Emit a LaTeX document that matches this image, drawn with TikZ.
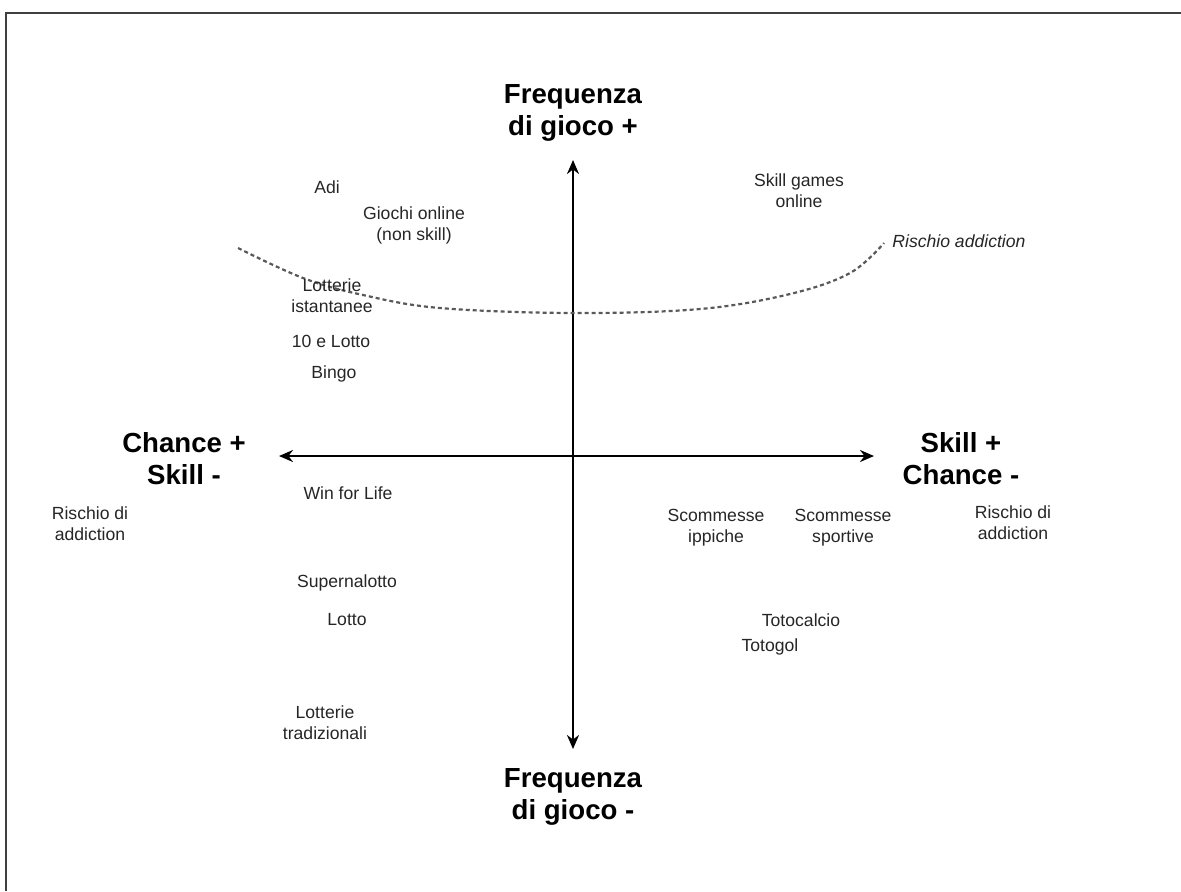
\documentclass[tikz,border=0pt]{standalone}
\usepackage{fontspec}
\setmainfont{Liberation Sans}
\usetikzlibrary{arrows.meta}
\begin{document}
\begin{tikzpicture}[x=0.5pt,y=-0.5pt,
  lbl/.style={align=center,text=black!85,font=\fontsize{8.8}{10.5}\selectfont,inner sep=0pt},
  title/.style={align=center,text=black,font=\fontsize{13.8}{16}\selectfont\bfseries,inner sep=0pt},
  axis/.style={line width=1.2pt,{Stealth[length=7pt,width=6pt]}-{Stealth[length=7pt,width=6pt]}},
  riskline/.style={line width=1.1pt,black!65,dash pattern=on 2pt off 1.5pt}]
\useasboundingbox (0,0) rectangle (1181,891);
% frame
\draw[line width=1pt,black!75] (6,891) -- (6,13) -- (1181,13);
% axes
\coordinate (top) at (573,160);
\coordinate (bot) at (573,749);
\coordinate (lft) at (279,456);
\coordinate (rgt) at (874,456);
\draw[axis] (top) -- (bot);
\draw[axis] (lft) -- (rgt);
% titles
\node[title] (fplus) at (573,113) {Frequenza\\di gioco +};
\node[title] (fminus) at (573,797) {Frequenza\\di gioco -};
\node[title] (chance) at (184,459) {Chance +\\Skill -};
\node[title] (skill) at (961,459) {Skill +\\Chance -};
% risk curve
\draw[riskline] plot[smooth,tension=0.6] coordinates {(238,248) (303,278) (363,295) (440,308) (573,313) (700,309) (790,294) (850,273) (884,243)};
\node[lbl,anchor=west,font=\fontsize{8.8}{10.5}\selectfont\itshape] (risk) at (892,241) {Rischio addiction};
% labels
\node[lbl] (riskl) at (90,524) {Rischio di\\addiction};
\node[lbl] (riskr) at (1013,523) {Rischio di\\addiction};
\node[lbl] (wfl) at (348,493) {Win for Life};
\node[lbl] (sip) at (716,528) {Scommesse\\ippiche};
\node[lbl] (ssp) at (843,528) {Scommesse\\sportive};
\node[lbl] (super) at (347,583) {Supernalotto};
\node[lbl] (lotto) at (347,620) {Lotto};
\node[lbl] (totoc) at (801,620) {Totocalcio};
\node[lbl] (totog) at (770,647) {Totogol};
\node[lbl] (ltrad) at (325,723) {Lotterie\\tradizionali};
\node[lbl] (adi) at (327,187) {Adi};
\node[lbl] (gonl) at (414,225) {Giochi online\\(non skill)};
\node[lbl] (sgo) at (799,191) {Skill games\\online};
\node[lbl] (list) at (332,296) {Lotterie\\istantanee};
\node[lbl] (dlotto) at (331,341) {10 e Lotto};
\node[lbl] (bingo) at (334,374) {Bingo};
\end{tikzpicture}
\end{document}
